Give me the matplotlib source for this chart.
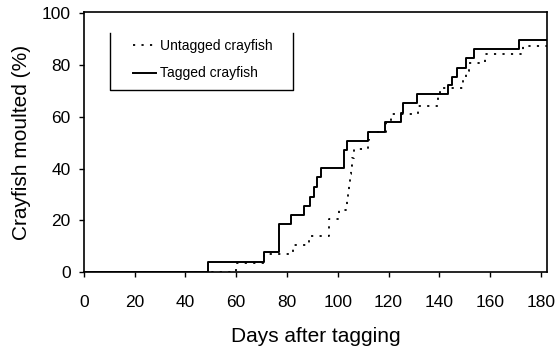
import matplotlib
matplotlib.use("Agg")
import matplotlib.pyplot as plt
from matplotlib.lines import Line2D

plt.rcParams['font.family'] = ['Liberation Sans', 'DejaVu Sans']

# Cumulative percentage of crayfish that had moulted, step changes (day, %)
tagged_days = [0, 48.7, 70.8, 77.0, 81.6, 86.8, 89.0, 90.5, 91.8, 93.3, 102.6, 103.6,
               112.1, 118.7, 124.8, 125.8, 131.2, 143.6, 145.0, 147.0, 150.6, 153.5,
               171.2, 182.5]
tagged_pct = [0, 4.0, 7.6, 18.6, 22.2, 25.5, 29.2, 33.0, 36.6, 40.2, 47.0, 50.6,
              54.3, 57.9, 61.4, 65.2, 68.9, 72.2, 75.5, 78.8, 82.7, 86.3,
              89.8, 89.8]

untagged_days = [0, 60.0, 71.0, 82.5, 88.8, 96.6, 100.6, 103.6, 104.0, 104.5, 105.0,
                 105.3, 105.6, 106.5, 111.8, 112.4, 118.9, 121.0, 131.5, 139.5, 140.2,
                 149.5, 150.5, 151.5, 157.8, 173.0, 182.5]
untagged_pct = [0, 3.6, 7.0, 10.3, 13.8, 20.5, 24.0, 27.5, 31.0, 34.5, 38.0,
                41.0, 44.2, 47.6, 51.0, 54.2, 57.8, 61.0, 64.2, 67.8, 71.0,
                74.3, 77.5, 80.8, 84.1, 87.3, 87.3]

x_ticks = [0, 20, 40, 60, 80, 100, 120, 140, 160, 180]
y_ticks = [0, 20, 40, 60, 80, 100]

fig = plt.figure(figsize=(5.59, 3.52), dpi=100)
ax = fig.add_axes([0.150, 0.227, 0.829, 0.739])

ax.step(untagged_days, untagged_pct, where='post', color='black',
        linewidth=1.3, linestyle=(0, (1.2, 3.5)), label='Untagged crayfish')
ax.step(tagged_days, tagged_pct, where='post', color='black',
        linewidth=1.4, label='Tagged crayfish')

ax.set_xlim(0, 182.5)
ax.set_ylim(0, 100.5)
ax.set_xticks(x_ticks)
ax.set_yticks(y_ticks)
ax.tick_params(axis='both', direction='out', length=3.5, width=1.0,
               labelsize=12.5, colors='black')
ax.tick_params(axis='x', pad=13)
ax.tick_params(axis='y', pad=6)
for sp in ax.spines.values():
    sp.set_linewidth(1.2)
    sp.set_color('black')

ax.set_xlabel('Days after tagging', fontsize=15, labelpad=12)
ax.set_ylabel('Crayfish moulted (%)', fontsize=15, labelpad=8)

# Legend with an open-topped frame
handles = [Line2D([], [], color='black', linewidth=1.3, linestyle=(0, (1.2, 3.5))),
           Line2D([], [], color='black', linewidth=1.4)]
ax.legend(handles, ['Untagged crayfish', 'Tagged crayfish'], frameon=False,
          loc='upper left', bbox_to_anchor=(0.105, 0.895), borderpad=0,
          borderaxespad=0, fontsize=10, handlelength=1.7, handletextpad=0.25,
          labelspacing=0.95)
bx0, bx1, by0, by1 = 0.056, 0.451, 0.700, 0.919
ax.plot([bx0, bx0, bx1, bx1], [by1, by0, by0, by1], transform=ax.transAxes,
        color='black', linewidth=1.0, clip_on=False)

fig.savefig('out.png', dpi=100)
